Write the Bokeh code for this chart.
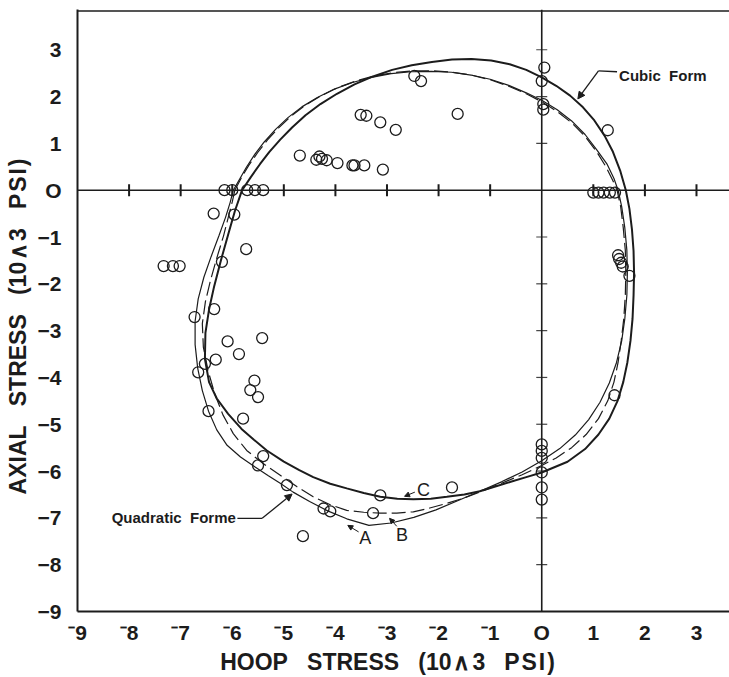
import numpy as np
from bokeh.plotting import figure
from bokeh.models import Span, Arrow, NormalHead, Label, FixedTicker
from bokeh.embed import file_html
from bokeh.resources import INLINE

# ---------------- data ----------------
X_TICKS = [-9, -8, -7, -6, -5, -4, -3, -2, -1, 0, 1, 2, 3]
X_TICK_LABELS = ["\u207b9", "\u207b8", "\u207b7", "\u207b6", "\u207b5", "\u207b4", "\u207b3",
                 "\u207b2", "\u207b1", "O", "1", "2", "3"]
Y_TICKS = [-9, -8, -7, -6, -5, -4, -3, -2, -1, 0, 1, 2, 3]
Y_TICK_LABELS = ["\u22129", "\u22128", "\u22127", "\u22126", "\u22125", "\u22124", "\u22123",
                 "\u22122", "\u22121", "O", "1", "2", "3"]
AXIS_TICKS_X = [-8, -7, -6, -5, -4, -3, -2, -1, 1, 2, 3]
AXIS_TICKS_Y = [-8, -7, -6, -5, -4, -3, -2, -1, 1, 2, 3]
NB = "\u00a0"
HS = "\u200a"
UNITS = "(10" + HS + "\u2227" + HS + "3" + NB * 3 + "P" + HS + "S" + HS + "I" + HS + ")"
X_TITLE = "HOOP" + NB * 3 + "STRESS" + NB * 3 + UNITS + NB * 5
Y_TITLE = "AXIAL" + NB * 3 + "STRESS" + NB * 3 + UNITS + NB * 5

# experimental points (hoop, axial) in 10^3 psi
hoop = [0.05, 0.0, 0.03, 0.03, 1.28,
        1.0, 1.1, 1.2, 1.32, 1.42,
        1.48, 1.50, 1.54, 1.57, 1.70, 1.41,
        0.0, 0.0, 0.0, 0.0, 0.0, 0.0,
        -3.51, -3.40, -3.13, -2.83, -1.63, -2.47, -2.34,
        -4.69, -4.37, -4.31, -4.26, -4.17, -3.96, -3.67, -3.63, -3.44, -3.08,
        -6.15, -6.0, -5.71, -5.56, -5.40,
        -6.36, -5.96, -5.73, -6.20, -7.33, -7.15, -7.02, -6.35, -6.73, -6.09,
        -5.42, -5.87, -6.53, -6.32, -6.66, -5.57, -5.65, -5.50, -6.46, -5.79,
        -5.40, -5.50, -4.94, -4.63, -4.23, -4.10, -3.27, -3.13, -1.74]
axial = [2.62, 2.33, 1.84, 1.72, 1.28,
         -0.05, -0.05, -0.05, -0.05, -0.05,
         -1.39, -1.47, -1.55, -1.63, -1.83, -4.38,
         -5.43, -5.57, -5.72, -6.03, -6.35, -6.61,
         1.61, 1.59, 1.45, 1.29, 1.63, 2.44, 2.33,
         0.74, 0.65, 0.72, 0.67, 0.64, 0.58, 0.53, 0.53, 0.53, 0.44,
         0.0, 0.0, 0.0, 0.0, 0.0,
         -0.50, -0.52, -1.26, -1.53, -1.62, -1.62, -1.62, -2.54, -2.71, -3.23,
         -3.16, -3.50, -3.71, -3.62, -3.89, -4.07, -4.27, -4.42, -4.72, -4.88,
         -5.68, -5.88, -6.30, -7.39, -6.80, -6.86, -6.90, -6.52, -6.35]

# curve C : cubic form
cubic_x = [-5.81, -5.64, -5.46, -5.28, -5.07, -4.84, -4.58, -4.29, -3.97, -3.63, -3.27, -2.90,
           -2.52, -2.13, -1.74, -1.36, -0.98, -0.62, -0.30, 0.00, 0.28, 0.55, 0.80, 1.02,
           1.22, 1.38, 1.52, 1.63, 1.70, 1.75, 1.78, 1.79, 1.78, 1.76, 1.72, 1.66, 1.58,
           1.47, 1.31, 1.10, 0.84, 0.50, 0.00, -0.30, -0.60, -0.90, -1.20, -1.50, -1.84,
           -2.15, -2.49, -2.80, -3.13, -3.45, -3.78, -4.10, -4.43, -4.70, -5.00, -5.33,
           -5.58, -5.82, -6.08, -6.30, -6.45, -6.53, -6.52, -6.45, -6.35, -6.22, -6.08,
           -5.95, -5.81]
cubic_y = [0.00, 0.28, 0.56, 0.82, 1.08, 1.34, 1.60, 1.84, 2.06, 2.26, 2.43, 2.57,
           2.67, 2.74, 2.79, 2.80, 2.77, 2.69, 2.57, 2.41, 2.23, 2.02, 1.77, 1.49,
           1.16, 0.82, 0.42, 0.00, -0.40, -0.85, -1.30, -1.77, -2.25, -2.75, -3.22, -3.68,
           -4.10, -4.50, -4.88, -5.22, -5.53, -5.80, -6.03, -6.13, -6.23, -6.33, -6.43,
           -6.50, -6.55, -6.59, -6.60, -6.59, -6.55, -6.47, -6.37, -6.27, -6.13, -5.98,
           -5.80, -5.56, -5.33, -5.10, -4.78, -4.45, -4.10, -3.60, -3.05, -2.55, -2.05,
           -1.50, -0.95, -0.45, 0.00]

# curve A : quadratic form (thin solid)
quadA_x = [-5.98, -5.85, -5.72, -5.56, -5.38, -5.16, -4.92, -4.65, -4.35, -4.02, -3.67, -3.30,
           -2.92, -2.53, -2.14, -1.75, -1.37, -1.00, -0.64, -0.30, 0.00, 0.30, 0.58, 0.84,
           1.06, 1.27, 1.40, 1.48, 1.55, 1.61, 1.65, 1.66, 1.65, 1.61, 1.55, 1.45, 1.31,
           1.13, 0.91, 0.65, 0.35, 0.00, -0.38, -0.78, -1.20, -1.62, -2.05, -2.48, -2.92,
           -3.35, -3.78, -4.15, -4.50, -4.82, -5.07, -5.30, -5.55, -5.84, -6.10, -6.30,
           -6.46, -6.58, -6.67, -6.72, -6.72, -6.66, -6.55, -6.41, -6.26, -6.13, -6.04,
           -5.98]
quadA_y = [0.00, 0.25, 0.50, 0.77, 1.03, 1.30, 1.55, 1.78, 1.98, 2.16, 2.30, 2.41,
           2.49, 2.53, 2.54, 2.52, 2.46, 2.37, 2.24, 2.08, 1.92, 1.72, 1.48, 1.19,
           0.87, 0.55, 0.25, 0.00, -0.35, -0.80, -1.28, -1.77, -2.25, -2.75, -3.22, -3.68,
           -4.12, -4.53, -4.90, -5.23, -5.52, -5.78, -6.02, -6.23, -6.43, -6.63, -6.83,
           -6.99, -7.11, -7.16, -7.02, -6.85, -6.65, -6.45, -6.26, -6.10, -5.92, -5.70,
           -5.45, -5.12, -4.72, -4.28, -3.80, -3.30, -2.80, -2.32, -1.86, -1.42, -0.98,
           -0.58, -0.26, 0.00]

# curve B : quadratic form (dashed)
quadB_x = [-5.95, -5.82, -5.68, -5.51, -5.32, -5.10, -4.86, -4.59, -4.29, -3.96, -3.61, -3.25,
           -2.88, -2.50, -2.12, -1.74, -1.37, -1.00, -0.64, -0.30, 0.00, 0.30, 0.58, 0.84,
           1.06, 1.25, 1.38, 1.46, 1.53, 1.58, 1.62, 1.63, 1.62, 1.59, 1.54, 1.48, 1.40,
           1.28, 1.10, 0.86, 0.58, 0.28, 0.00, -0.38, -0.78, -1.20, -1.52, -1.84, -2.17,
           -2.49, -2.81, -3.13, -3.45, -3.78, -4.10, -4.43, -4.75, -5.07, -5.40, -5.72,
           -5.98, -6.18, -6.34, -6.47, -6.56, -6.58, -6.52, -6.42, -6.30, -6.17, -6.07,
           -6.00, -5.95]
quadB_y = [0.00, 0.27, 0.53, 0.80, 1.07, 1.33, 1.58, 1.81, 2.01, 2.19, 2.33, 2.44,
           2.51, 2.55, 2.55, 2.52, 2.46, 2.36, 2.22, 2.06, 1.89, 1.68, 1.44, 1.15,
           0.83, 0.49, 0.20, 0.00, -0.35, -0.80, -1.28, -1.77, -2.25, -2.75, -3.22, -3.68,
           -4.10, -4.50, -4.88, -5.22, -5.50, -5.72, -5.88, -6.08, -6.26, -6.45, -6.58,
           -6.69, -6.79, -6.87, -6.90, -6.90, -6.88, -6.84, -6.72, -6.55, -6.33, -6.09,
           -5.84, -5.56, -5.20, -4.80, -4.35, -3.85, -3.35, -2.85, -2.38, -1.92, -1.45,
           -0.98, -0.55, -0.25, 0.00]

INK = "#1c1c1c"

p = figure(width=729, height=677, x_range=(-9, 3.64), y_range=(-9, 3.86),
           output_backend="svg", toolbar_location=None,
           min_border_left=77, min_border_right=0, min_border_top=9, min_border_bottom=66)
p.grid.visible = False
p.outline_line_color = None
p.background_fill_color = "white"
p.border_fill_color = "white"

for ax in (p.xaxis[0], p.yaxis[0]):
    ax.axis_line_width = 2
    ax.axis_line_color = INK
    ax.major_tick_line_color = None
    ax.minor_tick_line_color = None
    ax.major_label_text_font = "Liberation Sans"
    ax.major_label_text_font_style = "bold"
    ax.major_label_text_font_size = "21px"
    ax.major_label_text_color = INK
    ax.axis_label_text_font = "Liberation Sans"
    ax.axis_label_text_font_style = "bold"
    ax.axis_label_text_font_size = "23px"
    ax.axis_label_text_color = INK

p.xaxis.ticker = FixedTicker(ticks=X_TICKS)
p.xaxis.major_label_overrides = dict(zip(X_TICKS, X_TICK_LABELS))
p.yaxis.ticker = FixedTicker(ticks=Y_TICKS)
p.yaxis.major_label_overrides = dict(zip(Y_TICKS, Y_TICK_LABELS))
p.xaxis.major_label_standoff = 3
p.yaxis.major_label_standoff = 10
p.xaxis.axis_label = X_TITLE
p.yaxis.axis_label = Y_TITLE
p.xaxis.axis_label_standoff = 2
p.yaxis.axis_label_standoff = 4

# top frame line and zero axes
p.add_layout(Span(location=3.83, dimension="width", line_color=INK, line_width=1.5))
p.add_layout(Span(location=0, dimension="width", line_color=INK, line_width=1.6))
p.add_layout(Span(location=0, dimension="height", line_color=INK, line_width=1.6))
p.scatter(AXIS_TICKS_X, [0] * len(AXIS_TICKS_X), marker="dash", angle=np.pi / 2, size=12,
          line_color=INK, line_width=2)
p.scatter([0] * len(AXIS_TICKS_Y), AXIS_TICKS_Y, marker="dash", size=11,
          line_color="#444444", line_width=1.2)

# curves
p.line(quadA_x, quadA_y, line_color=INK, line_width=1.2)
p.line(quadB_x, quadB_y, line_color=INK, line_width=1.2, line_dash="14 5")
p.line(cubic_x, cubic_y, line_color=INK, line_width=2.0)

# points
p.scatter(hoop, axial, marker="circle", size=11, fill_color=None, line_color=INK, line_width=1.3)

# annotations
head = lambda s: NormalHead(size=s, fill_color=INK, line_color=INK, line_width=1)
p.line([1.46, 1.10], [2.53, 2.55], line_color=INK, line_width=1.3)
p.add_layout(Arrow(end=head(7), x_start=1.10, y_start=2.55, x_end=0.70, y_end=1.95,
                   line_color=INK, line_width=1.3))
p.add_layout(Label(x=1.50, y=2.46, text="Cubic" + NB * 2 + "Form", text_font="Liberation Sans",
                   text_font_style="bold", text_font_size="15px", text_baseline="middle",
                   text_color=INK))

p.line([-5.90, -5.42], [-7.01, -7.01], line_color=INK, line_width=1.3)
p.add_layout(Arrow(end=head(7), x_start=-5.42, y_start=-7.01, x_end=-4.84, y_end=-6.49,
                   line_color=INK, line_width=1.3))
p.add_layout(Label(x=-5.93, y=-7.0, text="Quadratic" + NB * 2 + "Forme", text_font="Liberation Sans",
                   text_font_style="bold", text_font_size="15px", text_baseline="middle",
                   text_align="right", text_color=INK))

for (lx, ly, txt, x0, y0, x1, y1) in [(-2.29, -6.41, "C", -2.46, -6.45, -2.66, -6.54),
                                      (-3.42, -7.44, "A", -3.55, -7.30, -3.76, -7.16),
                                      (-2.71, -7.37, "B", -2.81, -7.18, -2.95, -7.01)]:
    p.add_layout(Arrow(end=head(5), x_start=x0, y_start=y0, x_end=x1, y_end=y1,
                       line_color=INK, line_width=1.0))
    p.add_layout(Label(x=lx, y=ly, text=txt, text_font="Liberation Sans",
                       text_font_size="18px", text_align="center", text_baseline="middle",
                       text_color=INK))

open("out.html", "w").write(file_html(p, INLINE))
